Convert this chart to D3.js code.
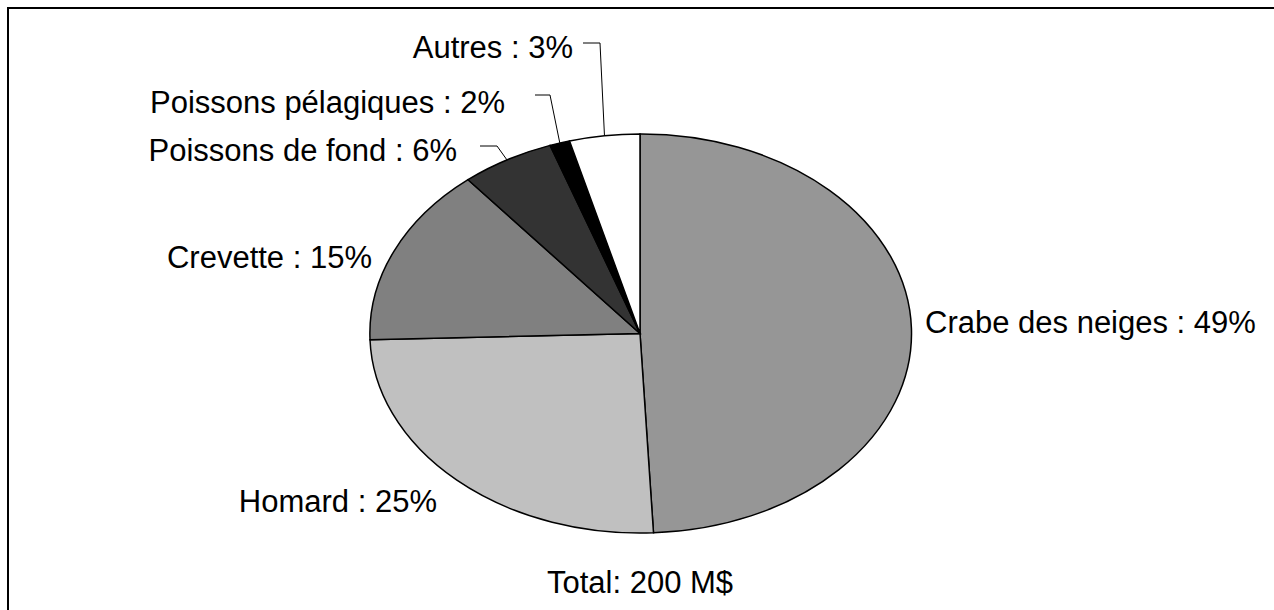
<!DOCTYPE html>
<html>
<head>
<meta charset="utf-8">
<script src="https://cdn.jsdelivr.net/npm/d3@7"></script>
<style>
  html, body { margin: 0; padding: 0; background: #fff; }
  svg { display: block; }
  text { font-family: "Liberation Sans", Arial, sans-serif; fill: #000; }
</style>
</head>
<body>
<svg id="chart" width="1274" height="610"></svg>
<script>
// ---- data ----
const categories = ["Crabe des neiges", "Homard", "Crevette", "Poissons de fond", "Poissons pélagiques", "Autres"];
const shares = [49.2, 25.3, 14.5, 5.6, 1.2, 4.2];          // slice sizes as drawn
const percentLabels = ["49%", "25%", "15%", "6%", "2%", "3%"];
const totalLabel = "Total: 200 M$";

// ---- layout ----
const W = 1274, H = 610;
const cx = 640, cy = 333.5, rx = 270, ry = 199.5;
const colors = ["#969696", "#c0c0c0", "#808080", "#333333", "#000000", "#ffffff"];
const labelLayout = [
  {x: 925, y: 333, anchor: "start"},
  {x: 437, y: 512, anchor: "end"},
  {x: 372, y: 268, anchor: "end"},
  {x: 457, y: 161, anchor: "end", elbow: [497, 146], hook: 480},
  {x: 505, y: 113, anchor: "end", elbow: [550, 95], hook: 535},
  {x: 573, y: 58, anchor: "end", elbow: [600, 43], hook: 583}
];
const fontSize = 31;

const svg = d3.select("#chart");

svg.append("rect")
  .attr("x", 8).attr("y", 8)
  .attr("width", W + 20).attr("height", H + 20)
  .attr("fill", "none").attr("stroke", "#000").attr("stroke-width", 2);

const data = categories.map((c, i) => ({name: c, value: shares[i], pct: percentLabels[i], color: colors[i]}));

const pie = d3.pie().value(d => d.value).sort(null).startAngle(0).endAngle(2 * Math.PI);
const arcs = pie(data);
const arc = d3.arc().innerRadius(0).outerRadius(1);

const g = svg.append("g").attr("transform", `translate(${cx},${cy}) scale(${rx},${ry})`);
g.selectAll("path.slice")
  .data(arcs)
  .join("path")
  .attr("class", "slice")
  .attr("d", arc)
  .attr("fill", d => d.data.color)
  .attr("stroke", "#000")
  .attr("stroke-width", 1.5)
  .attr("vector-effect", "non-scaling-stroke");

const pt = a => [cx + rx * Math.sin(a), cy - ry * Math.cos(a)];

arcs.forEach((d, i) => {
  const L = labelLayout[i];
  if (!L.elbow) return;
  const mid = (d.startAngle + d.endAngle) / 2;
  const p = pt(mid);
  svg.append("polyline")
    .attr("points", [[L.hook, L.elbow[1]], L.elbow, p].map(q => q.join(",")).join(" "))
    .attr("fill", "none")
    .attr("stroke", "#000")
    .attr("stroke-width", 1);
});

svg.selectAll("text.lbl")
  .data(arcs)
  .join("text")
  .attr("class", "lbl")
  .attr("x", (d, i) => labelLayout[i].x)
  .attr("y", (d, i) => labelLayout[i].y)
  .attr("text-anchor", (d, i) => labelLayout[i].anchor)
  .attr("font-size", fontSize)
  .text(d => `${d.data.name} : ${d.data.pct}`);

svg.append("text")
  .attr("x", cx).attr("y", 593)
  .attr("text-anchor", "middle")
  .attr("font-size", fontSize)
  .text(totalLabel);
</script>
</body>
</html>
